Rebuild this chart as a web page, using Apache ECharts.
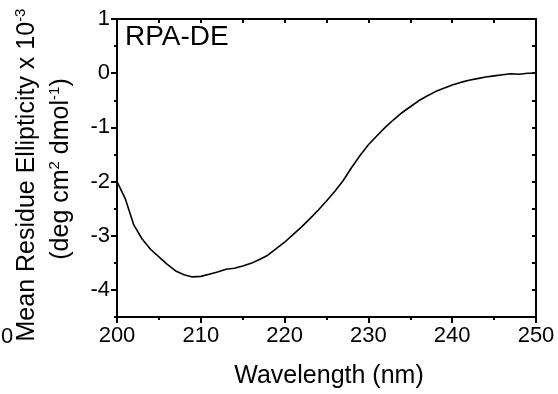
<!DOCTYPE html>
<html>
<head>
<meta charset="utf-8">
<script src="https://cdn.jsdelivr.net/npm/echarts@6/dist/echarts.min.js"></script>
<style>html,body{margin:0;padding:0;background:#fff;}#c{width:558px;height:394px;}</style>
</head>
<body>
<div id="c"></div>
<script>
var wavelengths = [200,201,202,203,204,205,206,207,208,209,210,211,212,213,214,215,216,217,218,219,220,221,222,223,224,225,226,227,228,229,230,231,232,233,234,235,236,237,238,239,240,241,242,243,244,245,246,247,248,249,250];
var ellipticity = [-2.00,-2.32,-2.80,-3.06,-3.25,-3.39,-3.53,-3.65,-3.72,-3.76,-3.75,-3.71,-3.67,-3.62,-3.60,-3.56,-3.51,-3.44,-3.36,-3.24,-3.12,-2.98,-2.84,-2.69,-2.53,-2.36,-2.18,-1.98,-1.74,-1.52,-1.32,-1.16,-1.00,-0.86,-0.73,-0.62,-0.51,-0.42,-0.34,-0.28,-0.22,-0.17,-0.13,-0.10,-0.07,-0.05,-0.03,-0.01,-0.02,0.00,0.00];
var yTicks = [-4,-3,-2,-1,0,1];
var xLabel = 'Wavelength (nm)';
var panelLabel = 'RPA-DE';

var FONT = 'Liberation Sans, Arial, sans-serif';
var chart = echarts.init(document.getElementById('c'), null, {renderer:'canvas'});
var data = wavelengths.map(function(w,i){return [w, ellipticity[i]];});
var axLine = {show:true, onZero:false, lineStyle:{color:'#000', width:2}};
var option = {
  animation:false,
  backgroundColor:'#fff',
  textStyle:{fontFamily:FONT, fontSize:22, color:'#000'},
  grid:{left:117, right:22, top:19, bottom:77},
  xAxis:[
    {type:'value', position:'bottom', min:200, max:250, interval:10,
     axisLine:axLine, splitLine:{show:false},
     axisTick:{show:true, inside:false, length:6, lineStyle:{color:'#000', width:2}},
     minorTick:{show:true, splitNumber:2, length:3, lineStyle:{color:'#000', width:2}},
     axisLabel:{color:'#000', fontSize:22, fontFamily:FONT, margin:8}},
    {type:'value', position:'top', min:200, max:250, interval:5,
     axisLine:axLine, splitLine:{show:false},
     axisTick:{show:true, inside:true, length:4, lineStyle:{color:'#000', width:2}},
     axisLabel:{show:false}}
  ],
  yAxis:[
    {type:'value', position:'left', min:-4.5, max:1, interval:0.5,
     axisLine:axLine, splitLine:{show:false},
     axisTick:{show:true, inside:false, length:6, customValues:yTicks, lineStyle:{color:'#000', width:2}},
     axisLabel:{color:'#000', fontSize:22, fontFamily:FONT, margin:7, customValues:yTicks}},
    {type:'value', position:'right', min:-4.5, max:1, interval:0.5,
     axisLine:axLine, splitLine:{show:false},
     axisTick:{show:true, inside:true, length:4, lineStyle:{color:'#000', width:2}},
     axisLabel:{show:false}},
    {type:'value', position:'left', min:-4.5, max:1, interval:0.5,
     axisLine:{show:false, onZero:false}, splitLine:{show:false},
     axisTick:{show:true, inside:false, length:3, lineStyle:{color:'#000', width:2}},
     axisLabel:{show:false}}
  ],
  series:[{type:'line', data:data, xAxisIndex:0, yAxisIndex:0, showSymbol:false, smooth:false,
    lineStyle:{color:'#000', width:1.6}}],
  graphic:[
    {type:'text', left:125, top:23, style:{text:panelLabel, font:'28px '+FONT, fill:'#000'}},
    {type:'text', x:329, y:376, style:{text:xLabel, font:'25px '+FONT, fill:'#000', align:'center', verticalAlign:'middle'}},
    {type:'text', x:1, y:326, style:{text:'0', font:'22px '+FONT, fill:'#000'}},
    {type:'text', x:27, y:175, rotation:Math.PI/2,
     style:{text:'{n|Mean Residue Ellipticity x 10}{s|-3}', align:'center', verticalAlign:'middle', fill:'#000',
       rich:{n:{fontSize:25, fontFamily:FONT, lineHeight:28, verticalAlign:'middle', fill:'#000'},
             s:{fontSize:15, fontFamily:FONT, lineHeight:15, verticalAlign:'top', fill:'#000'}}}},
    {type:'text', x:61, y:169, rotation:Math.PI/2,
     style:{text:'{n|(deg cm}{s|2}{n| dmol}{s|-1}{n|)}', align:'center', verticalAlign:'middle', fill:'#000',
       rich:{n:{fontSize:25, fontFamily:FONT, lineHeight:28, verticalAlign:'middle', fill:'#000'},
             s:{fontSize:15, fontFamily:FONT, lineHeight:15, verticalAlign:'top', fill:'#000'}}}}
  ]
};
chart.setOption(option);
</script>
</body>
</html>
